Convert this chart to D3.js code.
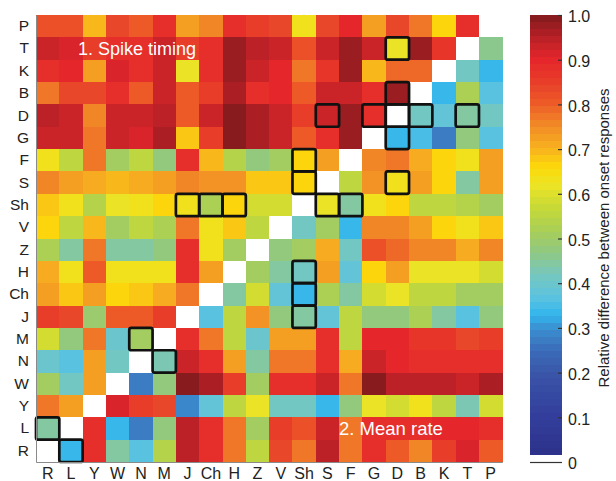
<!DOCTYPE html>
<html>
<head>
<meta charset="utf-8">
<script src="https://cdn.jsdelivr.net/npm/d3@7"></script>
<style>
  html, body { margin: 0; padding: 0; background: #fff; }
  svg { display: block; font-family: "Liberation Sans", Arial, Helvetica, sans-serif; }
</style>
</head>
<body>
<svg id="chart" width="616" height="481"></svg>
<script>
// Consonant labels: rows top to bottom, columns left to right
const rowLabels = ["P","T","K","B","D","G","F","S","Sh","V","Z","H","Ch","J","M","N","W","Y","L","R"];
const colLabels = ["R","L","Y","W","N","M","J","Ch","H","Z","V","Sh","S","F","G","D","B","K","T","P"];

// Relative difference between onset responses (one array per row, columns as colLabels).
// Upper-left triangle: spike timing; lower-right triangle: mean rate; diagonal = 0.
const rowP  = [0.82,0.82,0.70,0.83,0.80,0.88,0.72,0.76,0.89,0.85,0.84,0.64,0.83,0.90,0.73,0.84,0.77,0.67,0.89,0];
const rowT  = [0.93,0.91,0.85,0.89,0.88,0.93,0.85,0.88,0.98,0.95,0.93,0.82,0.93,0.97,0.93,0.62,0.97,0.87,0,0.46];
const rowK  = [0.89,0.90,0.72,0.91,0.89,0.93,0.61,0.88,0.97,0.93,0.90,0.77,0.87,0.97,0.70,0.79,0.79,0,0.42,0.34];
const rowB  = [0.78,0.84,0.83,0.89,0.81,0.93,0.81,0.85,0.96,0.89,0.90,0.80,0.93,0.93,0.89,0.97,0,0.34,0.53,0.36];
const rowD  = [0.94,0.93,0.76,0.93,0.93,0.94,0.80,0.93,0.99,0.96,0.93,0.85,0.93,0.97,0.88,0,0.42,0.38,0.44,0.41];
const rowG  = [0.93,0.93,0.77,0.93,0.91,0.96,0.68,0.85,0.99,0.96,0.93,0.80,0.89,0.98,0,0.33,0.35,0.28,0.48,0.37];
const rowF  = [0.64,0.56,0.77,0.51,0.55,0.48,0.88,0.69,0.54,0.47,0.51,0.66,0.72,0,0.75,0.77,0.71,0.67,0.63,0.72];
const rowS  = [0.76,0.72,0.71,0.69,0.71,0.72,0.75,0.74,0.74,0.68,0.68,0.66,0,0.56,0.74,0.63,0.72,0.67,0.44,0.72];
const rowSh = [0.68,0.63,0.54,0.62,0.63,0.66,0.63,0.52,0.66,0.58,0.59,0,0.61,0.45,0.63,0.66,0.56,0.56,0.54,0.51];
const rowV  = [0.67,0.56,0.69,0.51,0.56,0.52,0.77,0.63,0.68,0.56,0,0.41,0.51,0.34,0.75,0.75,0.72,0.67,0.63,0.68];
const rowZ  = [0.52,0.44,0.77,0.44,0.44,0.47,0.88,0.64,0.50,0,0.48,0.50,0.71,0.42,0.82,0.79,0.76,0.76,0.71,0.75];
const rowH  = [0.71,0.63,0.80,0.63,0.63,0.63,0.89,0.72,0,0.50,0.44,0.41,0.72,0.39,0.66,0.72,0.62,0.62,0.62,0.59];
const rowCh = [0.72,0.68,0.72,0.66,0.68,0.71,0.77,0,0.44,0.59,0.38,0.33,0.53,0.44,0.59,0.62,0.56,0.56,0.51,0.50];
const rowJ  = [0.85,0.83,0.49,0.81,0.81,0.85,0,0.37,0.56,0.74,0.47,0.44,0.38,0.55,0.47,0.47,0.53,0.45,0.37,0.48];
const rowM  = [0.58,0.47,0.77,0.40,0.50,0,0.89,0.78,0.56,0.40,0.72,0.72,0.89,0.56,0.90,0.90,0.86,0.86,0.84,0.85];
const rowN  = [0.40,0.37,0.73,0.42,0,0.43,0.93,0.89,0.73,0.45,0.77,0.77,0.89,0.71,0.93,0.90,0.88,0.89,0.89,0.89];
const rowW  = [0.51,0.41,0.72,0,0.28,0.47,1.00,0.96,0.85,0.50,0.88,0.89,0.93,0.78,1.00,0.94,0.94,0.94,0.93,0.96];
const rowY  = [0.77,0.73,0,0.91,0.85,0.84,0.29,0.38,0.55,0.62,0.41,0.41,0.34,0.47,0.62,0.58,0.63,0.56,0.43,0.58];
const rowL  = [0.44,0,0.89,0.34,0.28,0.47,0.95,0.89,0.78,0.50,0.85,0.82,0.93,0.78,0.89,0.89,0.89,0.90,0.90,0.89];
const rowR  = [0,0.33,0.89,0.45,0.36,0.54,0.94,0.89,0.77,0.56,0.84,0.78,0.94,0.77,0.89,0.81,0.76,0.85,0.91,0.81];

const matrixRows = [rowP,rowT,rowK,rowB,rowD,rowG,rowF,rowS,rowSh,rowV,rowZ,rowH,rowCh,rowJ,rowM,rowN,rowW,rowY,rowL,rowR];

// Highlighted pairs [row, column]
const boxedCells = [
  ["T","D"],["B","D"],["D","S"],["D","G"],["D","D"],["D","B"],["D","T"],["G","D"],
  ["F","Sh"],["S","Sh"],["S","D"],
  ["Sh","J"],["Sh","Ch"],["Sh","H"],["Sh","S"],["Sh","F"],
  ["H","Sh"],["Ch","Sh"],["J","Sh"],
  ["M","N"],["N","M"],["L","R"],["R","L"]
];

const colorbarTicks = [0,0.1,0.2,0.3,0.4,0.5,0.6,0.7,0.8,0.9,1.0];

// ---- colour map: 64 bands, first band white ----
const cmapStops = [
  [0.00,"#2b2f85"],[0.10,"#333e9c"],[0.20,"#3a55a8"],[0.25,"#3b6cb8"],
  [0.30,"#3a8fd0"],[0.33,"#31b6ec"],[0.37,"#5dc3e0"],[0.42,"#76c7bf"],
  [0.47,"#8fc882"],[0.52,"#a9cf55"],[0.57,"#c7d937"],[0.62,"#ece425"],
  [0.66,"#fcd90a"],[0.70,"#f8b41e"],[0.75,"#f28d26"],[0.80,"#ed5d28"],
  [0.85,"#e83e29"],[0.90,"#e5252b"],[0.95,"#b72126"],[1.00,"#7e1a1d"]
];
const smooth = d3.scaleLinear()
  .domain(cmapStops.map(d => d[0]))
  .range(cmapStops.map(d => d[1]))
  .interpolate(d3.interpolateRgb)
  .clamp(true);
const nBands = 64;
const bandColors = d3.range(nBands).map(i => i === 0 ? "#ffffff" : smooth((i + 0.5) / nBands));
const color = d3.scaleQuantize().domain([0, 1]).range(bandColors);

// ---- layout ----
const svg = d3.select("#chart");
const plot = { left: 36, right: 502.3, top: 15, bottom: 462 };

const x = d3.scaleBand().domain(colLabels).range([plot.left, plot.right]).padding(0);
const y = d3.scaleBand().domain(rowLabels).range([plot.top, plot.bottom]).padding(0);

const cells = [];
matrixRows.forEach((vals, ri) => {
  vals.forEach((v, ci) => cells.push({ row: rowLabels[ri], col: colLabels[ci], value: v }));
});

svg.append("g")
  .selectAll("rect")
  .data(cells)
  .join("rect")
  .attr("x", d => x(d.col))
  .attr("y", d => y(d.row))
  .attr("width", x.bandwidth() + 0.4)
  .attr("height", y.bandwidth() + 0.4)
  .attr("fill", d => color(d.value))
  .attr("shape-rendering", "crispEdges");

// highlight outlines
svg.append("g")
  .selectAll("rect")
  .data(boxedCells)
  .join("rect")
  .attr("x", d => x(d[1]))
  .attr("y", d => y(d[0]))
  .attr("width", x.bandwidth())
  .attr("height", y.bandwidth())
  .attr("rx", 2)
  .attr("fill", "none")
  .attr("stroke", "#111")
  .attr("stroke-width", 2.7);

// axes
const yAxis = svg.append("g")
  .attr("transform", `translate(${plot.left},0)`)
  .call(d3.axisLeft(y).tickSize(0).tickPadding(7));
const xAxis = svg.append("g")
  .attr("transform", `translate(0,${plot.bottom})`)
  .call(d3.axisBottom(x).tickSize(0).tickPadding(6));

[xAxis, yAxis].forEach(g => {
  g.select(".domain").attr("stroke", "#8a8a8a").attr("stroke-width", 1);
  g.selectAll("text").attr("fill", "#222").attr("font-family", "Liberation Sans, Arial, sans-serif");
});
yAxis.selectAll("text").attr("font-size", 15.5);
xAxis.selectAll("text").attr("font-size", 16);

// panel labels
svg.append("text")
  .attr("x", 78).attr("y", 55)
  .attr("fill", "#fff").attr("font-size", 18)
  .text("1. Spike timing");
svg.append("text")
  .attr("x", 339).attr("y", 435)
  .attr("fill", "#fff").attr("font-size", 18.5)
  .text("2. Mean rate");

// ---- colour bar ----
const cb = { x: 530, width: 32 };
const cbScale = d3.scaleLinear().domain([0, 1]).range([plot.bottom, plot.top]);

svg.append("g")
  .selectAll("rect")
  .data(d3.range(nBands))
  .join("rect")
  .attr("x", cb.x)
  .attr("y", i => cbScale((i + 1) / nBands))
  .attr("width", cb.width)
  .attr("height", i => cbScale(i / nBands) - cbScale((i + 1) / nBands) + 0.3)
  .attr("fill", i => bandColors[i])
  .attr("shape-rendering", "crispEdges");

const cbAxis = svg.append("g")
  .attr("transform", `translate(${cb.x + cb.width},0)`)
  .call(d3.axisRight(cbScale)
    .tickValues(colorbarTicks)
    .tickSize(-4)
    .tickPadding(6)
    .tickFormat(d => d === 0 ? "0" : d3.format(".1f")(d)));
cbAxis.select(".domain").remove();
cbAxis.selectAll(".tick line").attr("stroke", "#333").attr("stroke-width", 1.2);
cbAxis.selectAll(".tick")
  .filter(d => d === 0)
  .select("line")
  .attr("x2", -cb.width);
cbAxis.selectAll("text")
  .attr("font-size", 16)
  .attr("fill", "#222")
  .attr("dy", "0.42em")
  .attr("font-family", "Liberation Sans, Arial, sans-serif");

svg.append("text")
  .attr("transform", `translate(609,238) rotate(-90)`)
  .attr("text-anchor", "middle")
  .attr("font-size", 15)
  .attr("fill", "#222")
  .text("Relative difference between onset responses");
</script>
</body>
</html>
